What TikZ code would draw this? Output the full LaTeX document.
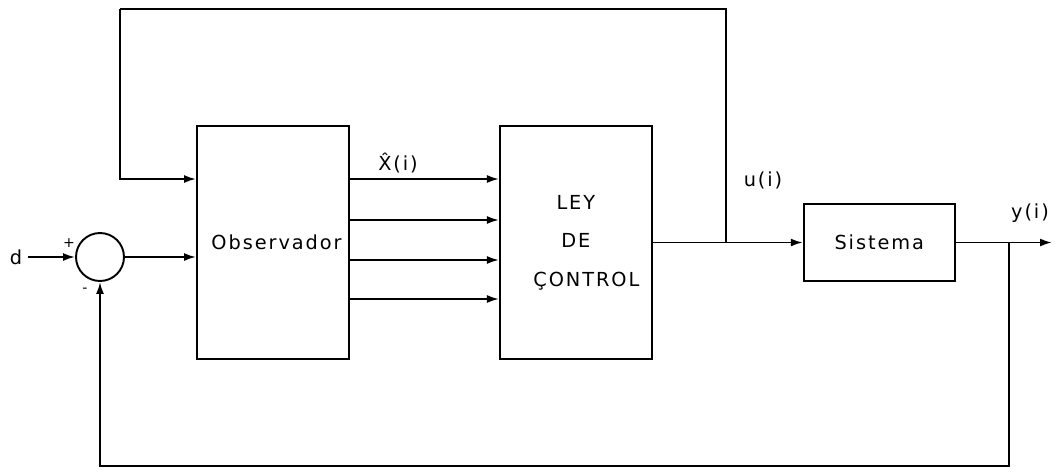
\documentclass[tikz,border=0pt]{standalone}
\usepackage{fontspec}
\setmainfont{DejaVu Sans}[LetterSpace=10]
\usepackage{tikz}
\usetikzlibrary{positioning,arrows.meta}

\begin{document}
\begin{tikzpicture}[x=0.02cm, y=-0.02cm,
  font=\fontsize{11}{13}\selectfont,
  box/.style={draw, line width=1.1pt, align=center, inner sep=0pt,
              minimum width=3.04cm, minimum height=4.66cm},
  sumnode/.style={draw, circle, line width=1.1pt, minimum size=0.96cm, inner sep=0pt},
  arr/.style={-{Latex[length=2.4mm, width=1.6mm]}, line width=1.1pt},
  lin/.style={line width=1.1pt},
  signo/.style={font=\fontsize{8}{9}\selectfont}]
  \useasboundingbox (0,0) rectangle (1059,471);
  \node[sumnode] (suma) at (100,257) {};
  \node (d) at (16,257) {d};
  \node[signo] (mas) at (69,243) {+};
  \node[signo] (menos) at (85,290) {-};
  \node[box] (obs) at (273,242.5) {\hspace{4pt}Observador};
  \node[box, right=2.98cm of obs] (ley) {LEY\\[9pt]DE\\[9pt]\hspace{12pt}ÇONTROL};
  \node[box, right=3.0cm of ley, minimum width=3.02cm, minimum height=1.54cm] (sis) {Sistema};
  \coordinate (ub) at (726,242.5);
  \coordinate (top) at (120,9);
  \coordinate (yb) at (1009,242.5);
  \coordinate (salida) at (1052,242.5);
  \node (xhat) at (398,163) {\^{X}(i)};
  \node (u) at (763,180) {u(i)};
  \node (y) at (1030,213) {y(i)};
  \draw[arr] (d.east) -- (suma.west);
  \draw[arr] (suma.east) -- (suma.east -| obs.west);
  \foreach \yy in {179,220,260,299}
    \draw[arr] (obs.east |- 0,\yy) -- (ley.west |- 0,\yy);
  \draw[arr] (ley.east) -- (sis.west);
  \draw[arr] (sis.east) -- (salida);
  \draw[lin] (ub) |- (top);
  \draw[arr] (top) |- (obs.west |- 0,179);
  \draw[arr] (yb) |- (suma.south |- 0,466) -- (suma.south);
\end{tikzpicture}
\end{document}
